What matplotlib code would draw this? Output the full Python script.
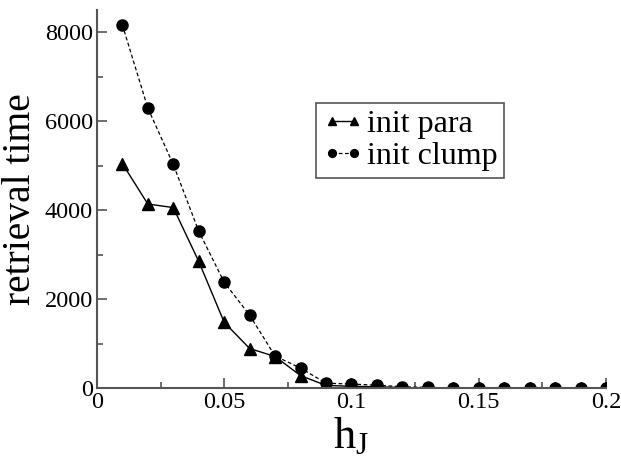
import numpy as np
import matplotlib.pyplot as plt
from matplotlib.ticker import MultipleLocator

plt.rcParams['font.family'] = 'Liberation Serif'
plt.rcParams['mathtext.fontset'] = 'custom'
plt.rcParams['mathtext.rm'] = 'Liberation Serif'
plt.rcParams['mathtext.it'] = 'Liberation Serif:italic'

h_j = [0.01, 0.02, 0.03, 0.04, 0.05, 0.06, 0.07, 0.08, 0.09, 0.10,
       0.11, 0.12, 0.13, 0.14, 0.15, 0.16, 0.17, 0.18, 0.19, 0.20]
init_para = [5050, 4140, 4060, 2850, 1480, 890, 710, 280, 60, 40,
             30, 10, 5, 0, 0, 0, 0, 0, 0, 0]
init_clump = [8170, 6300, 5030, 3530, 2380, 1640, 720, 450, 110, 90,
              65, 30, 15, 5, 0, 0, 0, 0, 0, 0]
xtick_vals = [0, 0.05, 0.1, 0.15, 0.2]
xtick_labels = ['0', '0.05', '0.1', '0.15', '0.2']
ytick_vals = [0, 2000, 4000, 6000, 8000]
ytick_labels = ['0', '2000', '4000', '6000', '8000']

fig = plt.figure(figsize=(6.21, 4.62), dpi=100)
ax = fig.add_axes([0.156, 0.160, 0.820, 0.818])

ax.plot(h_j, init_para, '-', color='black', lw=1.0, marker='^', ms=8,
        label='init para')
ax.plot(h_j, init_clump, '--', color='black', lw=0.9, marker='o', ms=8,
        dashes=(3, 2), label='init clump')

ax.set_xlim(0, 0.2)
ax.set_ylim(0, 8500)
ax.set_xticks(xtick_vals)
ax.set_xticklabels(xtick_labels)
ax.set_yticks(ytick_vals)
ax.set_yticklabels(ytick_labels)
ax.xaxis.set_minor_locator(MultipleLocator(0.025))
ax.yaxis.set_minor_locator(MultipleLocator(1000))

for s in ['top', 'right']:
    ax.spines[s].set_visible(False)
for s in ['left', 'bottom']:
    ax.spines[s].set_linewidth(1.5)
    ax.spines[s].set_color('#555555')

ax.tick_params(which='major', direction='in', length=7, width=1.2,
               color='#555555', labelsize=17.5, pad=3)
ax.tick_params(which='minor', direction='in', length=4, width=1.2,
               color='#555555')

ax.set_xlabel('h$_{\\mathrm{J}}$', fontsize=32, labelpad=2)
ax.set_ylabel('retrieval time', fontsize=28.5, labelpad=4)

leg = ax.legend(loc='upper left', bbox_to_anchor=(0.430, 0.754), fontsize=23,
                numpoints=2, markerscale=0.7, handlelength=1.3,
                handletextpad=0.1, borderpad=0.2, labelspacing=0.1,
                borderaxespad=0, fancybox=False, framealpha=1)
leg.get_frame().set_edgecolor('#555555')
leg.get_frame().set_linewidth(1.2)

fig.savefig('out.png', dpi=100)
